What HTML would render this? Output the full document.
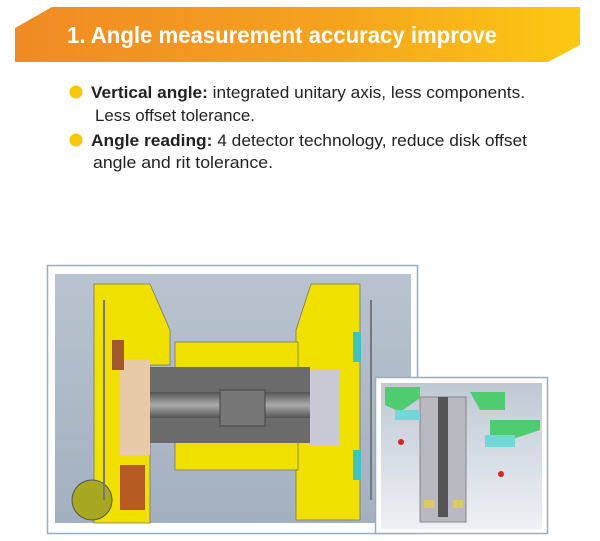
<!DOCTYPE html>
<html><head><meta charset="utf-8"><style>
html,body{margin:0;padding:0;background:#fff;width:600px;height:541px;overflow:hidden}
</style></head><body>
<svg width="600" height="541" viewBox="0 0 600 541" xmlns="http://www.w3.org/2000/svg" font-family="Liberation Sans, sans-serif">
<defs>
<linearGradient id="hg" x1="0" x2="1" y1="0" y2="0">
<stop offset="0" stop-color="#f08a24"/><stop offset="0.55" stop-color="#f5a21f"/><stop offset="1" stop-color="#fcc812"/>
</linearGradient>
<linearGradient id="bg" x1="0" y1="0" x2="0" y2="1">
<stop offset="0" stop-color="#b9c3cf"/><stop offset="1" stop-color="#a3b0c0"/>
</linearGradient>
<linearGradient id="ibg" x1="0" y1="0" x2="0" y2="1">
<stop offset="0" stop-color="#bfc8d4"/><stop offset="1" stop-color="#eef1f5"/>
</linearGradient>
<linearGradient id="sh" x1="0" y1="0" x2="0" y2="1">
<stop offset="0" stop-color="#555"/><stop offset="0.5" stop-color="#aaa"/><stop offset="1" stop-color="#555"/>
</linearGradient>
</defs>
<polygon points="15,28 52,7 580,7 580,45 548,62 15,62" fill="url(#hg)"/>
<text x="67" y="43" font-size="23.5" font-weight="bold" fill="#fff" textLength="430" lengthAdjust="spacingAndGlyphs">1. Angle measurement accuracy improve</text>
<circle cx="76" cy="92" r="6.5" fill="#fcc60d"/>
<circle cx="76" cy="140" r="6.5" fill="#fcc60d"/>
<g font-size="17" fill="#222">
<text x="91" y="98" textLength="434" lengthAdjust="spacingAndGlyphs"><tspan font-weight="bold">Vertical angle:</tspan> integrated unitary axis, less components.</text>
<text x="95" y="121" textLength="160" lengthAdjust="spacingAndGlyphs">Less offset tolerance.</text>
<text x="91" y="146" textLength="436" lengthAdjust="spacingAndGlyphs"><tspan font-weight="bold">Angle reading:</tspan> 4 detector technology, reduce disk offset</text>
<text x="93" y="168" textLength="180" lengthAdjust="spacingAndGlyphs">angle and rit tolerance.</text>
</g>
<rect x="47.5" y="265.5" width="370" height="268" fill="#fff" stroke="#9aabbb" stroke-width="1.5"/>
<rect x="55" y="274" width="356" height="249" fill="url(#bg)"/>
<polygon points="94,284 150,284 170,330 170,365 150,365 150,523 94,523" fill="#efe000" stroke="#776" stroke-width="0.8"/>
<polygon points="360,284 311,284 296,330 296,520 360,520" fill="#efe000" stroke="#776" stroke-width="0.8"/>
<rect x="175" y="342" width="123" height="30" fill="#efe000" stroke="#776" stroke-width="0.8"/>
<rect x="175" y="440" width="123" height="30" fill="#efe000" stroke="#776" stroke-width="0.8"/>
<rect x="150" y="367" width="160" height="76" fill="#6b6b6b"/>
<rect x="150" y="392" width="170" height="26" fill="url(#sh)"/>
<rect x="220" y="390" width="45" height="36" fill="#777" stroke="#444"/>
<rect x="120" y="360" width="30" height="95" fill="#e8c9a8"/>
<rect x="310" y="370" width="30" height="75" fill="#c9c9d6"/>
<rect x="112" y="340" width="12" height="30" fill="#a05a2a"/>
<rect x="120" y="465" width="25" height="45" fill="#b55a20"/>
<rect x="353" y="332" width="8" height="30" fill="#3cc4c0"/>
<rect x="353" y="450" width="8" height="30" fill="#3cc4c0"/>
<circle cx="92" cy="500" r="20" fill="#a8a820" stroke="#555"/>
<rect x="370" y="300" width="2" height="200" fill="#777"/>
<rect x="103" y="300" width="2" height="200" fill="#777"/>
<rect x="375.5" y="377.5" width="172" height="156" fill="#fff" stroke="#9aabbb" stroke-width="1.5"/>
<rect x="381" y="383" width="161" height="146" fill="url(#ibg)"/>
<rect x="420" y="397" width="46" height="125" fill="#b8b8c0" stroke="#888"/>
<rect x="438" y="397" width="10" height="120" fill="#555"/>
<polygon points="385,387 420,387 420,398 400,412 385,405" fill="#4fcc70"/>
<polygon points="470,392 505,392 505,410 480,410" fill="#4fcc70"/>
<polygon points="490,420 540,420 540,430 510,440 490,435" fill="#4fcc70"/>
<rect x="395" y="410" width="25" height="10" fill="#70d8d8"/>
<rect x="485" y="435" width="30" height="12" fill="#70d8d8"/>
<circle cx="401" cy="442" r="3" fill="#d22"/>
<circle cx="501" cy="474" r="3" fill="#d22"/>
<rect x="424" y="500" width="10" height="8" fill="#e0c860"/>
<rect x="453" y="500" width="10" height="8" fill="#e0c860"/>
</svg>
</body></html>
